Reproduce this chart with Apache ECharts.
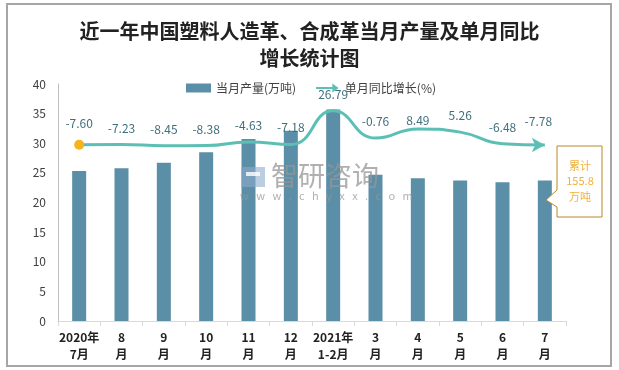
<!DOCTYPE html>
<html><head><meta charset="utf-8">
<script src="https://cdn.jsdelivr.net/npm/echarts@6/dist/echarts.min.js"></script>
<style>html,body{margin:0;padding:0;background:#fff}#c{width:619px;height:370px}</style>
</head><body><div id="c"></div>
<script>
const categories = ['2020年\n7月','8\n月','9\n月','10\n月','11\n月','12\n月','2021年\n1-2月','3\n月','4\n月','5\n月','6\n月','7\n月'];
const production = [25.3, 25.8, 26.7, 28.5, 30.7, 32.1, 35.7, 24.7, 24.1, 23.7, 23.4, 23.7];
const growth = [-7.60, -7.23, -8.45, -8.38, -4.63, -7.18, 26.79, -0.76, 8.49, 5.26, -6.48, -7.78];
const yTicks = {min: 0, max: 40, interval: 5};
const titleText = '近一年中国塑料人造革、合成革当月产量及单月同比\n增长统计图';
const noteText = '累计\n155.8\n万吨';

const FONT = '"Noto Sans CJK SC", sans-serif';
const last = growth.length - 1;
const lineColor = '#5cbfb4';
const chart = echarts.init(document.getElementById('c'));
chart.setOption({
  animation: false,
  backgroundColor: '#fff',
  title: {text: titleText, left: 'center', top: 13, itemGap: 0,
    textStyle: {fontFamily: FONT, fontSize: 20, fontWeight: 'bold', color: '#222', lineHeight: 27}},
  legend: {left: 181, top: 77, itemWidth: 25, itemHeight: 9, itemGap: 20,
    textStyle: {fontFamily: FONT, fontSize: 12, color: '#404040'},
    data: [{name: '当月产量(万吨)', icon: 'rect'},
           {name: '单月同比增长(%)', icon: 'path://M0,4 L18,4 L18,0 L25,5 L18,10 L18,6 L0,6 Z'}]},
  grid: {left: 58, right: 53, top: 84, bottom: 49},
  xAxis: {type: 'category', data: categories,
    axisLine: {lineStyle: {color: '#d9d9d9', width: 1}},
    axisTick: {show: true, length: 5, lineStyle: {color: '#d9d9d9'}},
    axisLabel: {interval: 0, fontFamily: FONT, fontWeight: 'bold', fontSize: 12, color: '#222', lineHeight: 17, margin: 8}},
  yAxis: [
    {type: 'value', min: yTicks.min, max: yTicks.max, interval: yTicks.interval,
      axisLine: {show: true, lineStyle: {color: '#bfbfbf'}}, axisTick: {show: false}, splitLine: {show: false},
      axisLabel: {fontFamily: FONT, fontSize: 12, color: '#404040', margin: 12}},
    {type: 'value', min: -186, max: 54, show: false, splitLine: {show: false}}
  ],
  series: [
    {name: '当月产量(万吨)', type: 'bar', data: production, barWidth: 14,
      itemStyle: {color: '#5b8fa7'}},
    {name: '单月同比增长(%)', type: 'line', yAxisIndex: 1, smooth: 0.5, z: 5, showSymbol: true,
      lineStyle: {color: lineColor, width: 3}, itemStyle: {color: lineColor},
      data: growth.map((v, i) => ({
        value: v,
        symbol: i === 0 ? 'circle' : (i === last ? 'arrow' : 'circle'),
        symbolSize: i === 0 ? 10 : (i === last ? [11, 13] : 1),
        symbolRotate: i === last ? -90 : 0,
        itemStyle: {color: i === 0 ? '#f5b31e' : lineColor},
        label: i === 8 ? {distance: 2} : {}
      })),
      label: {show: true, position: 'top', distance: 10, fontFamily: FONT, fontSize: 12, color: '#3f6f7c',
        formatter: p => p.value.toFixed(2)}}
  ],
  graphic: [
    {type: 'rect', shape: {x: 7, y: 4, width: 604, height: 362}, style: {fill: 'none', stroke: '#a6a6a6', lineWidth: 2}, z: 10},
    {type: 'rect', shape: {x: 241, y: 167, width: 24, height: 20}, style: {fill: 'rgba(140,172,205,0.6)'}, z: 20},
    {type: 'rect', shape: {x: 246, y: 172, width: 14, height: 4}, style: {fill: 'rgba(255,255,255,0.8)'}, z: 21},
    {type: 'text', left: 271, top: 162, style: {text: '智研咨询', fontFamily: FONT, fontSize: 27, fill: 'rgba(150,150,150,0.75)'}, z: 20},
    {type: 'text', left: 240, top: 190, style: {text: 'w   w   w   .   c   h   y   x   x   .   c   o   m', fontFamily: FONT, fontSize: 11, fill: 'rgba(150,150,150,0.75)'}, z: 20},
    {type: 'polygon', shape: {points: [[557,146],[602,146],[602,217],[557,217],[557,207],[546,200],[557,190]]},
      style: {fill: '#fff', stroke: '#b8892a', lineWidth: 1}, z: 10},
    {type: 'text', x: 580, y: 181, style: {text: noteText, fontFamily: FONT, fontSize: 11, lineHeight: 15.5, fill: '#f0b23a', align: 'center', verticalAlign: 'middle'}, z: 11}
  ]
});
</script></body></html>
